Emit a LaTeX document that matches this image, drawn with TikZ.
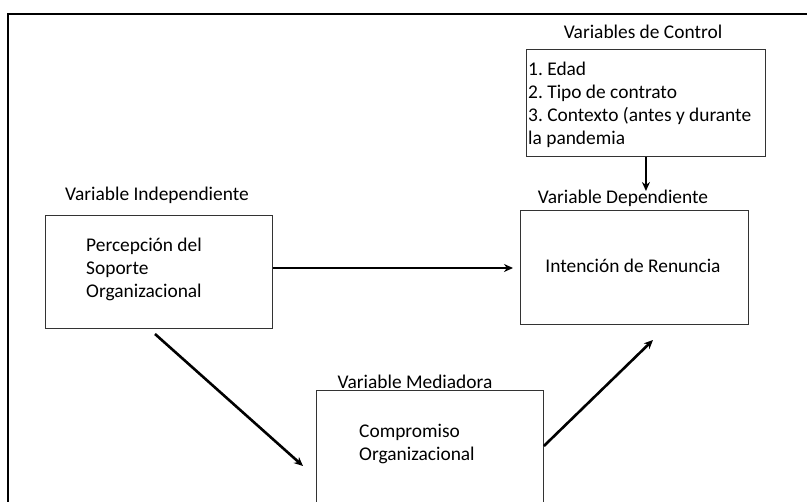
\documentclass[tikz,border=0pt]{standalone}
\usepackage{fontspec}
\setmainfont{Carlito}
\frenchspacing
\usetikzlibrary{arrows.meta,calc}
\tikzset{
  box/.style={draw=black!80, line width=0.9pt, inner sep=0pt, anchor=north west},
  lbl/.style={inner sep=0pt, font=\fontsize{19.4}{23}\selectfont},
  txt/.style={inner sep=0pt, font=\fontsize{19.4}{23}\selectfont, align=left, anchor=west},
  arr/.style={line width=2.6pt, -{Stealth[length=9pt,width=8pt]}}
}
\begin{document}
\begin{tikzpicture}[x=1pt,y=-1pt]
\useasboundingbox (0,0) rectangle (807,502);
\begin{scope}
\clip (0,0) rectangle (807,502);
% outer frame
\draw[line width=2pt] (8,14) rectangle (830,530);
% control
\node[lbl] (ctrlL) at (643,32) {Variables de Control};
\node[box, minimum width=239pt, minimum height=107pt] (ctrl) at (526,49) {};
\node[txt] (ctrlT) at (528,105) {1. Edad\\2. Tipo de contrato\\3. Contexto (antes y durante\\la pandemia};
% dependent
\node[lbl] (depL) at (623,198) {Variable Dependiente};
\node[box, minimum width=228pt, minimum height=114pt] (dep) at (520,210) {};
\node[lbl] (depT) at (633,266) {Intención de Renuncia};
% independent
\node[lbl] (indL) at (157,195) {Variable Independiente};
\node[box, minimum width=227pt, minimum height=113pt] (ind) at (45,215) {};
\node[txt] (indT) at (86,269) {Percepción del\\Soporte\\Organizacional};
% mediator
\node[lbl] (medL) at (415,382) {Variable Mediadora};
\node[box, minimum width=227pt, minimum height=140pt] (med) at (316,390) {};
\node[txt] (medT) at (359,444) {Compromiso\\Organizacional};
% connectors
\coordinate (ctrlEnd) at (ctrl.south |- 0,191);
\draw[arr] (ctrl.south) -- (ctrlEnd);
\coordinate (indOut) at (ind.east |- 0,268);
\coordinate (depIn) at (513,268);
\draw[arr] (indOut) -- (depIn);
\coordinate (indLow) at (155,334);
\coordinate (medIn) at (303,466);
\draw[arr] (indLow) -- (medIn);
\coordinate (medOut) at (med.east |- 0,446);
\coordinate (depLow) at (653,340);
\draw[arr] (medOut) -- (depLow);
\end{scope}
\end{tikzpicture}
\end{document}
